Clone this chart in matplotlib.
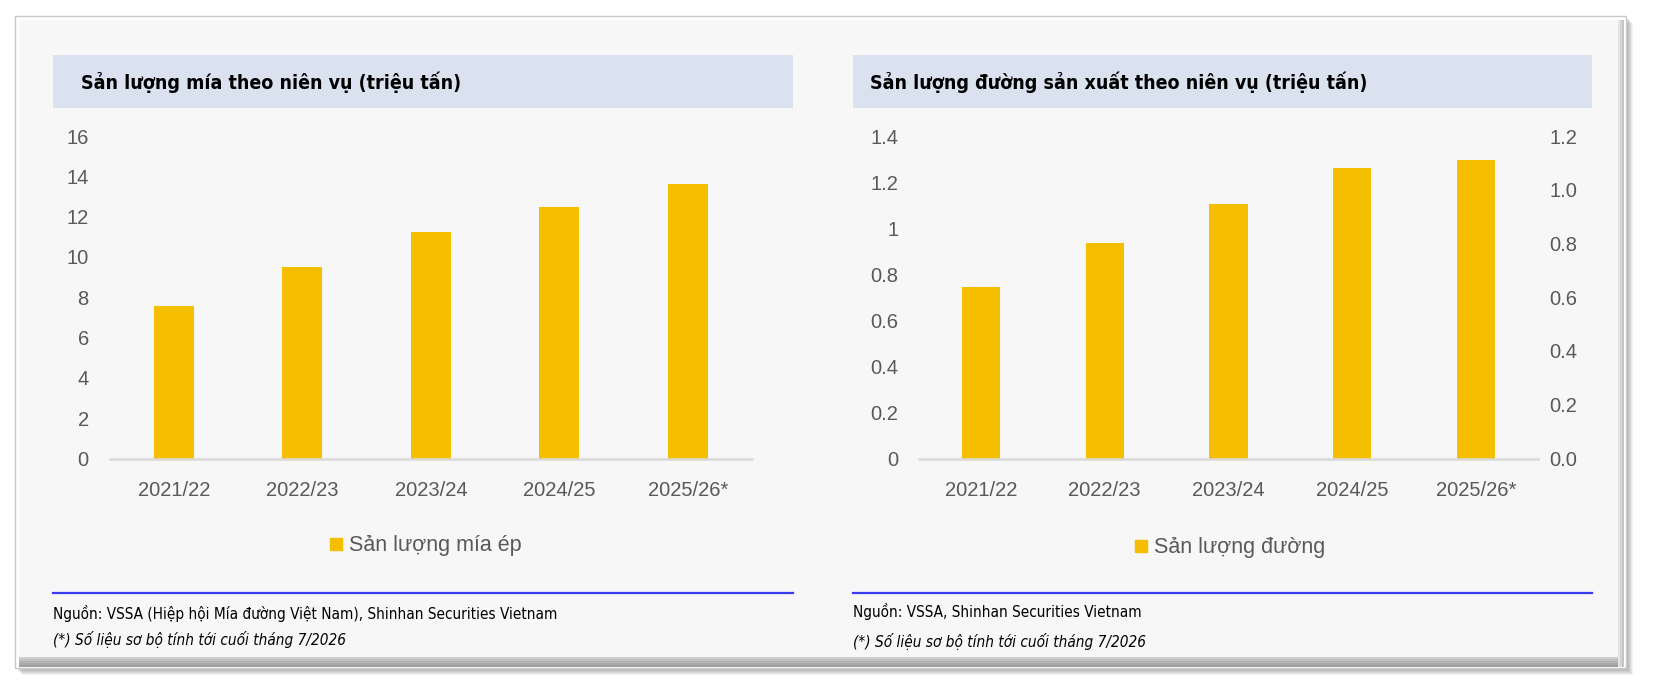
import matplotlib
matplotlib.use("Agg")
import matplotlib.pyplot as plt
from matplotlib import font_manager
from matplotlib.patches import Rectangle
from matplotlib.lines import Line2D
from matplotlib.ticker import FormatStrFormatter, FuncFormatter

# ---------------- data ----------------
seasons = ["2021/22", "2022/23", "2023/24", "2024/25", "2025/26*"]
cane_output = [7.55, 9.52, 11.24, 12.49, 13.63]        # million tonnes
sugar_output = [0.743, 0.934, 1.104, 1.263, 1.295]     # million tonnes

left_title = "Sản lượng mía theo niên vụ (triệu tấn)"
right_title = "Sản lượng đường sản xuất theo niên vụ (triệu tấn)"
left_legend = "Sản lượng mía ép"
right_legend = "Sản lượng đường"
left_source = "Nguồn: VSSA (Hiệp hội Mía đường Việt Nam), Shinhan Securities Vietnam"
right_source = "Nguồn: VSSA, Shinhan Securities Vietnam"
note = "(*) Số liệu sơ bộ tính tới cuối tháng 7/2026"

left_yticks = [0, 2, 4, 6, 8, 10, 12, 14, 16]
right_yticks = [0, 0.2, 0.4, 0.6, 0.8, 1.0, 1.2, 1.4]
sec_yticks = [0.0, 0.2, 0.4, 0.6, 0.8, 1.0, 1.2]

# ---------------- style ----------------
BAR = "#F6BE00"
TICK = "#595959"
BAND = "#D9E2EE"
PANEL = "#F7F7F7"
BLUE = "#3A3AF0"

names = {f.name for f in font_manager.fontManager.ttflist}
if "Liberation Sans Narrow" in names:
    NARROW = dict(family=["Liberation Sans Narrow", "DejaVu Sans"])
    TSIZE, SSIZE = 16, 12
else:
    NARROW = dict(family=["DejaVu Sans"], stretch="condensed")
    TSIZE, SSIZE = 14, 11
REG = ["Liberation Sans", "DejaVu Sans"]
plt.rcParams["font.family"] = REG

W, H = 1654, 692
fig = plt.figure(figsize=(W / 100, H / 100), dpi=100)
fig.patch.set_facecolor("white")


def fx(x):
    return x / W


def fy(y):
    return 1 - y / H


def rect_px(x0, y0, x1, y1, **kw):
    r = Rectangle((fx(x0), fy(y1)), fx(x1) - fx(x0), fy(y0) - fy(y1),
                  transform=fig.transFigure, **kw)
    fig.add_artist(r)
    return r


# shadow (soft)
for i, a in enumerate([0.10, 0.10, 0.12, 0.14, 0.16]):
    off = 5 - i
    rect_px(15 + off + 2, 16 + off + 2, 1626 + off + 2, 668 + off + 2,
            facecolor="#808080", edgecolor="none", alpha=a, zorder=-5)
# frame
rect_px(15, 16, 1626, 668, facecolor="white", edgecolor="#C8C8C8", lw=1, zorder=-4)
rect_px(19, 20, 1621, 667, facecolor=PANEL, edgecolor="none", zorder=-3)
# bottom / right bevel
for i, c in enumerate(["#D0D0D0", "#C0C0C0", "#B4B4B4", "#A8A8A8", "#A0A0A0"]):
    rect_px(19, 657 + i * 2, 1621, 659 + i * 2, facecolor=c, edgecolor="none", zorder=-2)
for i, c in enumerate(["#E4E4E4", "#D4D4D4", "#C4C4C4"]):
    rect_px(1618 + i * 2, 20, 1620 + i * 2, 667, facecolor=c, edgecolor="none", zorder=-2)

# title bands
rect_px(53, 55, 793, 108, facecolor=BAND, edgecolor="none", zorder=-1)
rect_px(853, 55, 1592, 108, facecolor=BAND, edgecolor="none", zorder=-1)
fig.text(fx(81), fy(82), left_title, fontsize=TSIZE, fontweight="bold", color="black",
         va="center", ha="left", **NARROW)
fig.text(fx(870), fy(82), right_title, fontsize=TSIZE, fontweight="bold", color="black",
         va="center", ha="left", **NARROW)

# blue rules
for x0, x1 in [(53, 793), (853, 1592)]:
    fig.add_artist(Line2D([fx(x0), fx(x1)], [fy(592.5), fy(592.5)], color=BLUE, lw=1.6,
                          transform=fig.transFigure))

# sources
fig.text(fx(53), fy(613), left_source, fontsize=SSIZE, color="black", va="center", ha="left", **NARROW)
fig.text(fx(53), fy(639), note, fontsize=SSIZE, color="black", style="italic", va="center",
         ha="left", **NARROW)
fig.text(fx(853), fy(612), right_source, fontsize=SSIZE, color="black", va="center", ha="left", **NARROW)
fig.text(fx(853), fy(642), note, fontsize=SSIZE, color="black", style="italic", va="center",
         ha="left", **NARROW)

TOP, BOT = 136, 458.5


def make_ax(x0, x1):
    ax = fig.add_axes([fx(x0), fy(BOT), fx(x1) - fx(x0), fy(TOP) - fy(BOT)])
    ax.set_zorder(2)
    ax.patch.set_visible(False)
    for s in ["top", "right", "left"]:
        ax.spines[s].set_visible(False)
    ax.spines["bottom"].set_color("#D9D9D9")
    ax.spines["bottom"].set_linewidth(1.8)
    ax.tick_params(axis="both", length=0, labelcolor=TICK, labelsize=14.5)
    ax.tick_params(axis="x", pad=16)
    ax.tick_params(axis="y", pad=15)
    ax.set_xlim(-0.5, len(seasons) - 0.5)
    return ax


x = list(range(len(seasons)))

axl = make_ax(109.7, 752)
axl.bar(x, cane_output, width=0.31, color=BAR, zorder=2)
axl.set_ylim(0, 16)
axl.set_yticks(left_yticks)
axl.set_xticks(x)
axl.set_xticklabels(seasons)
axl.yaxis.set_major_formatter(FuncFormatter(lambda v, p: f"{v:g}"))

axr = make_ax(919, 1538)
axr.bar(x, sugar_output, width=0.31, color=BAR, zorder=2)
axr.set_ylim(0, 1.4)
axr.set_yticks(right_yticks)
axr.set_xticks(x)
axr.set_xticklabels(seasons)
axr.yaxis.set_major_formatter(FuncFormatter(lambda v, p: f"{round(v, 1):g}"))

axr2 = axr.twinx()
axr2.set_zorder(3)
axr2.patch.set_visible(False)
axr2.set_ylim(0, 1.2)
axr2.set_yticks(sec_yticks)
axr2.yaxis.set_major_formatter(FormatStrFormatter("%.1f"))
for s in ["top", "right", "left", "bottom"]:
    axr2.spines[s].set_visible(False)
axr2.tick_params(axis="y", length=0, labelcolor=TICK, labelsize=14.5, pad=8)

# legends
for cx, cy, label in [(426, 546, left_legend), (1230, 548, right_legend)]:
    h = Line2D([], [], marker="s", color="none", markerfacecolor=BAR, markeredgecolor=BAR,
               markersize=8)
    fig.legend([h], [label], loc="center", bbox_to_anchor=(fx(cx), fy(cy)),
               bbox_transform=fig.transFigure, frameon=False, fontsize=15.5,
               labelcolor=TICK, handlelength=0.6, handletextpad=0.3, borderpad=0)

fig.savefig("out.png", dpi=100, facecolor="white")
